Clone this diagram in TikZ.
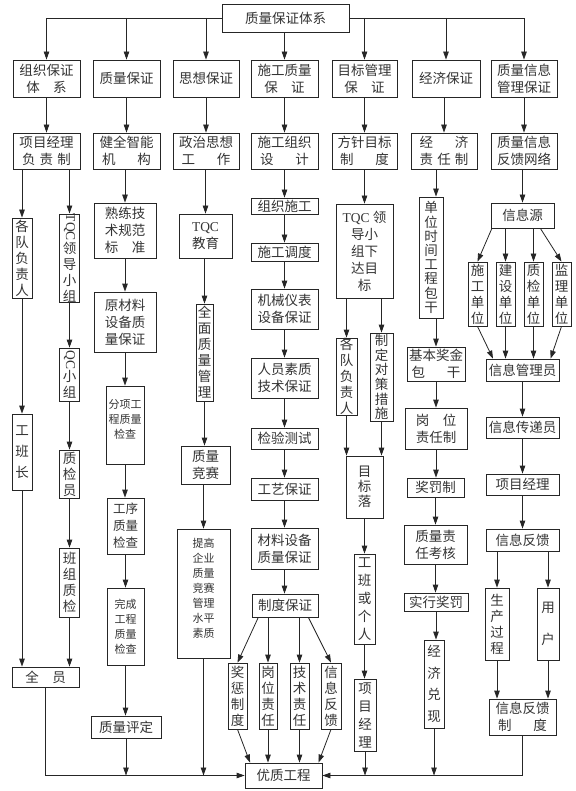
\documentclass[tikz,border=0pt]{standalone}
\usepackage{fontspec}
\usepackage{graphicx}
\setmainfont{Liberation Serif}
\newfontfamily\cjk{Noto Sans CJK SC}
\usetikzlibrary{arrows.meta,calc}
\newcommand\jl[2][3.6em]{\makebox[#1][s]{#2}}
\newcommand\bx[7][]{\node[box,minimum width={(#5)-(#3)},minimum height={(#6)-(#4)},#1] (#2) at ({((#3)+(#5))/2},{((#4)+(#6))/2}) {#7};}
\tikzset{
 box/.style={draw=black!85,line width=0.8pt,inner sep=0pt,align=center,text=black!80,font=\cjk\fontsize{13.5}{17}\selectfont},
 vt/.style={font=\cjk\fontsize{13.5}{#1}\selectfont},
 vt/.default=16,
 sm/.style={font=\cjk\fontsize{11}{15}\selectfont},
 arr/.style={draw=black!85,line width=0.8pt,-{Triangle[length=8pt,width=5.5pt]}}
}
\begin{document}
\begin{tikzpicture}[x=1pt,y=-1pt]
\useasboundingbox (0,0) rectangle (575,791);
% top
\bx{T}{222}{4}{349}{32}{质量保证体系}
% row 1
\bx{A1}{13}{60}{80}{97}{组织保证\\体\hspace{1em}系}
\bx{A2}{93}{60}{160}{97}{质量保证}
\bx{A3}{173}{60}{239}{97}{思想保证}
\bx{A4}{251}{60}{318}{97}{施工质量\\保\hspace{1em}证}
\bx{A5}{332}{60}{397}{97}{目标管理\\保\hspace{1em}证}
\bx{A6}{412}{60}{480}{97}{经济保证}
\bx{A7}{491}{60}{557}{97}{质量信息\\管理保证}
% row 2
\bx{B1}{13}{133}{80}{169}{项目经理\\\jl{负\hfil 责\hfil 制}}
\bx{B2}{93}{133}{160}{169}{健全智能\\\jl{机\hfil 构}}
\bx{B3}{173}{133}{239}{169}{政治思想\\\jl{工\hfil 作}}
\bx{B4}{251}{133}{318}{169}{施工组织\\\jl{设\hfil 计}}
\bx{B5}{332}{133}{397}{169}{方针目标\\\jl{制\hfil 度}}
\bx{B6}{411}{133}{477}{169}{\jl{经\hfil 济}\\\jl{责\hfil 任\hfil 制}}
\bx{B7}{491}{133}{557}{169}{质量信息\\反馈网络}
% column 1
\bx[vt]{C1a}{12}{218}{32}{298}{各\\队\\负\\责\\人}
\bx[vt]{C1b}{59.5}{218}{79.5}{298}{\rotatebox{-90}{\rmfamily TQC}\\领\\导\\小\\组}
\bx[vt]{C1c}{59.5}{348}{79.5}{401}{\rotatebox{-90}{\rmfamily QC}\\小\\组}
\bx[vt=21]{C1d}{12}{414}{32}{490}{工\\班\\长}
\bx[vt]{C1e}{59.5}{450}{79.5}{498}{质\\检\\员}
\bx[vt]{C1f}{59.5}{548}{79.5}{617}{班\\组\\质\\检}
\bx{C1g}{12}{667}{79}{687}{全\hspace{1em}员}
% column 2
\bx{C2a}{94}{203}{156}{258}{熟练技\\术规范\\\jl[3em]{标\hfil 准}}
\bx{C2b}{94}{292}{156}{352}{原材料\\设备质\\量保证}
\bx[sm]{C2c}{106}{386}{144}{464}{分项工\\程质量\\检查\\[-3pt]\mbox{}}
\bx[font=\cjk\fontsize{12.5}{17}\selectfont]{C2d}{107}{498}{144}{554}{工序\\质量\\检查}
\bx[sm]{C2e}{107}{588}{144}{665}{完成\\工程\\质量\\检查}
\bx{C2f}{91}{716}{161}{738}{质量评定}
% column 3
\bx{C3a}{179}{214}{232}{258}{{\rmfamily TQC}\\教育}
\bx[vt]{C3b}{196}{304}{213}{401}{全\\面\\质\\量\\管\\理}
\bx{C3c}{181}{446}{230}{484}{质量\\竞赛}
\bx[sm]{C3d}{177}{529}{230}{658}{提高\\企业\\质量\\竞赛\\管理\\水平\\素质\\[-4pt]\mbox{}}
% column 4
\bx{C4a}{251}{198}{318}{214}{组织施工}
\bx{C4b}{251}{243}{318}{261}{施工调度}
\bx{C4c}{251}{289}{318}{329}{机械仪表\\设备保证}
\bx{C4d}{251}{358}{318}{398}{人员素质\\技术保证}
\bx{C4e}{251}{428}{318}{449}{检验测试}
\bx{C4f}{251}{478}{318}{500}{工艺保证}
\bx{C4g}{251}{528}{318}{569}{材料设备\\质量保证}
\bx{C4h}{252}{594}{318}{617}{制度保证}
\bx[vt]{D1}{228}{663}{247}{729}{奖\\惩\\制\\度}
\bx[vt]{D2}{259}{663}{277}{729}{岗\\位\\责\\任}
\bx[vt]{D3}{290}{663}{309}{729}{技\\术\\责\\任}
\bx[vt]{D4}{321}{663}{341}{729}{信\\息\\反\\馈}
\bx{Y}{245}{763}{322}{788}{优质工程}
% column 5
\bx{C5a}{336}{204}{393}{298}{{\rmfamily TQC} 领\\导小\\组下\\达目\\标}
\bx[vt]{C5b}{336}{338}{357}{415}{各\\队\\负\\责\\人}
\bx[vt=14.6]{C5c}{370}{333}{393}{421}{制\\定\\对\\策\\措\\施}
\bx[vt=15]{C5d}{346}{456}{383}{518}{目\\标\\落}
\bx[vt=18]{C5e}{354}{554}{375}{644}{工\\班\\或\\个\\人}
\bx[vt=18]{C5f}{354}{679}{376}{751}{项\\目\\经\\理}
% column 6
\bx[vt=14.2]{C6a}{419}{197}{443}{318}{单\\位\\时\\间\\工\\程\\包\\干}
\bx{C6b}{407}{347}{465}{381}{基本奖金\\\jl{包\hfil 干}}
\bx{C6c}{405}{408}{467}{449}{\jl[3em]{岗\hfil 位}\\责任制}
\bx{C6d}{407}{478}{464}{497}{奖罚制}
\bx{C6e}{404}{525}{467}{564}{质量责\\任考核}
\bx{C6f}{404}{593}{468}{611}{实行奖罚}
\bx[vt=21.5]{C6g}{424}{640}{444}{728}{经\\济\\兑\\现}
% column 7
\bx{C7a}{491}{203}{554}{228}{信息源}
\bx[vt]{E1}{468}{262}{487}{326}{施\\工\\单\\位}
\bx[vt]{E2}{496}{262}{515}{326}{建\\设\\单\\位}
\bx[vt]{E3}{524}{262}{543}{326}{质\\检\\单\\位}
\bx[vt]{E4}{552}{262}{571}{326}{监\\理\\单\\位}
\bx{C7b}{486}{359}{559}{381}{信息管理员}
\bx{C7c}{486}{417}{559}{438}{信息传递员}
\bx{C7d}{486}{474}{559}{495}{项目经理}
\bx{C7e}{486}{529}{559}{551}{信息反馈}
\bx[vt]{F1}{485}{588}{509}{660}{生\\产\\过\\程}
\bx[vt=32]{F2}{537}{588}{559}{660}{用\\户}
\bx{C7f}{489}{699}{556}{735}{信息反馈\\\jl{制\hfil 度}}
% ---------- connectors ----------
\draw[arr] (T.west) -| (A1.north);
\draw[arr] (T.west -| A2.north) -- (A2.north);
\draw[arr] (T.west -| A3.north) -- (A3.north);
\draw[arr] (T.south -| A4.north) -- (A4.north);
\draw[arr] (T.east -| A5.north) -- (A5.north);
\draw[arr] (T.east -| A6.north) -- (A6.north);
\draw[arr] (T.east) -| (A7.north);
\foreach \i in {1,...,7} {\draw[arr] (B\i.north |- A\i.south) -- (B\i.north);}
% column 1
\draw[arr] (C1a.north |- B1.south) -- (C1a.north);
\draw[arr] (C1b.north |- B1.south) -- (C1b.north);
\draw[arr] (C1a.south) -- (C1d.north);
\draw[arr] (C1b.south) -- (C1c.north);
\draw[arr] (C1c.south) -- (C1e.north);
\draw[arr] (C1e.south) -- (C1f.north);
\draw[arr] (C1d.south) -- (C1d.south |- C1g.north);
\draw[arr] (C1f.south) -- (C1f.south |- C1g.north);
\draw[arr] (C1g.south) |- (Y.west);
% column 2
\draw[arr] (C2a.north |- B2.south) -- (C2a.north);
\draw[arr] (C2a.south) -- (C2b.north);
\draw[arr] (C2b.south) -- (C2b.south |- C2c.north);
\draw[arr] (C2c.south) -- (C2c.south |- C2d.north);
\draw[arr] (C2d.south) -- (C2d.south |- C2e.north);
\draw[arr] (C2e.south) -- (C2e.south |- C2f.north);
\draw[arr] (C2f.south) -- (C2f.south |- Y.west);
% column 3
\draw[arr] (C3a.north |- B3.south) -- (C3a.north);
\draw[arr] (C3b.north |- C3a.south) -- (C3b.north);
\draw[arr] (C3b.south) -- (C3b.south |- C3c.north);
\draw[arr] (C3d.north |- C3c.south) -- (C3d.north);
\draw[arr] (C3d.south) -- (C3d.south |- Y.west);
% column 4
\draw[arr] (B4.south) -- (C4a.north);
\draw[arr] (C4a.south) -- (C4b.north);
\draw[arr] (C4b.south) -- (C4c.north);
\draw[arr] (C4c.south) -- (C4d.north);
\draw[arr] (C4d.south) -- (C4e.north);
\draw[arr] (C4e.south) -- (C4f.north);
\draw[arr] (C4f.south) -- (C4g.north);
\draw[arr] (C4g.south) -- (C4g.south |- C4h.north);
\draw[arr] ($(C4h.south west)!0.1!(C4h.south east)$) -- (D1.north);
\draw[arr] (C4h.south -| D2.north) -- (D2.north);
\draw[arr] (C4h.south -| D3.north) -- (D3.north);
\draw[arr] ($(C4h.south west)!0.85!(C4h.south east)$) -- (D4.north);
\draw[arr] (D1.south) -- ($(Y.north west)!0.07!(Y.north east)$);
\draw[arr] (D2.south) -- (D2.south |- Y.north);
\draw[arr] (D3.south) -- (D3.south |- Y.north);
\draw[arr] (D4.south) -- ($(Y.north west)!0.95!(Y.north east)$);
% column 5
\draw[arr] (B5.south) -- (C5a.north);
\draw[arr] (C5b.north |- C5a.south) -- (C5b.north);
\draw[arr] (C5c.north |- C5a.south) -- (C5c.north);
\draw[arr] (C5b.south) -- (C5b.south |- C5d.north);
\draw[arr] (C5c.south) -- (C5c.south |- C5d.north);
\draw[arr] (C5d.south) -- (C5e.north);
\draw[arr] (C5e.south) -- (C5e.south |- C5f.north);
\draw[arr] (C5f.south) -- (C5f.south |- Y.east);
% column 6
\draw[arr] (C6b.north |- B6.south) -- (C6b.north |- C6a.north);
\draw[arr] (C6b.north |- C6a.south) -- (C6b.north);
\draw[arr] (C6b.south) -- (C6b.south |- C6c.north);
\draw[arr] (C6c.south) -- (C6c.south |- C6d.north);
\draw[arr] (C6d.south) -- (C6d.south |- C6e.north);
\draw[arr] (C6e.south) -- (C6e.south |- C6f.north);
\draw[arr] (C6f.south) -- (C6f.south |- C6g.north);
\draw[arr] (C6g.south) -- (C6g.south |- Y.east);
% column 7
\draw[arr] (C7a.north |- B7.south) -- (C7a.north);
\draw[arr] ($(C7a.south west)!0.02!(C7a.south east)$) -- (E1.north);
\draw[arr] (E2.north |- C7a.south) -- (E2.north);
\draw[arr] (E3.north |- C7a.south) -- (E3.north);
\draw[arr] ($(C7a.south west)!0.78!(C7a.south east)$) -- (E4.north);
\draw[arr] (E1.south) -- ($(C7b.north west)!0.1!(C7b.north east)$);
\draw[arr] (E2.south) -- (E2.south |- C7b.north);
\draw[arr] (E3.south) -- (E3.south |- C7b.north);
\draw[arr] (E4.south) -- ($(C7b.north west)!0.88!(C7b.north east)$);
\draw[arr] (C7b.south) -- (C7c.north);
\draw[arr] (C7c.south) -- (C7d.north);
\draw[arr] (C7d.south) -- (C7e.north);
\draw[arr] (F1.north |- C7e.south) -- (F1.north);
\draw[arr] (F2.north |- C7e.south) -- (F2.north);
\draw[arr] (F1.south) -- (F1.south |- C7f.north);
\draw[arr] (F2.south) -- (F2.south |- C7f.north);
\draw[arr] (C7f.south) |- (Y.east);
\end{tikzpicture}
\end{document}
